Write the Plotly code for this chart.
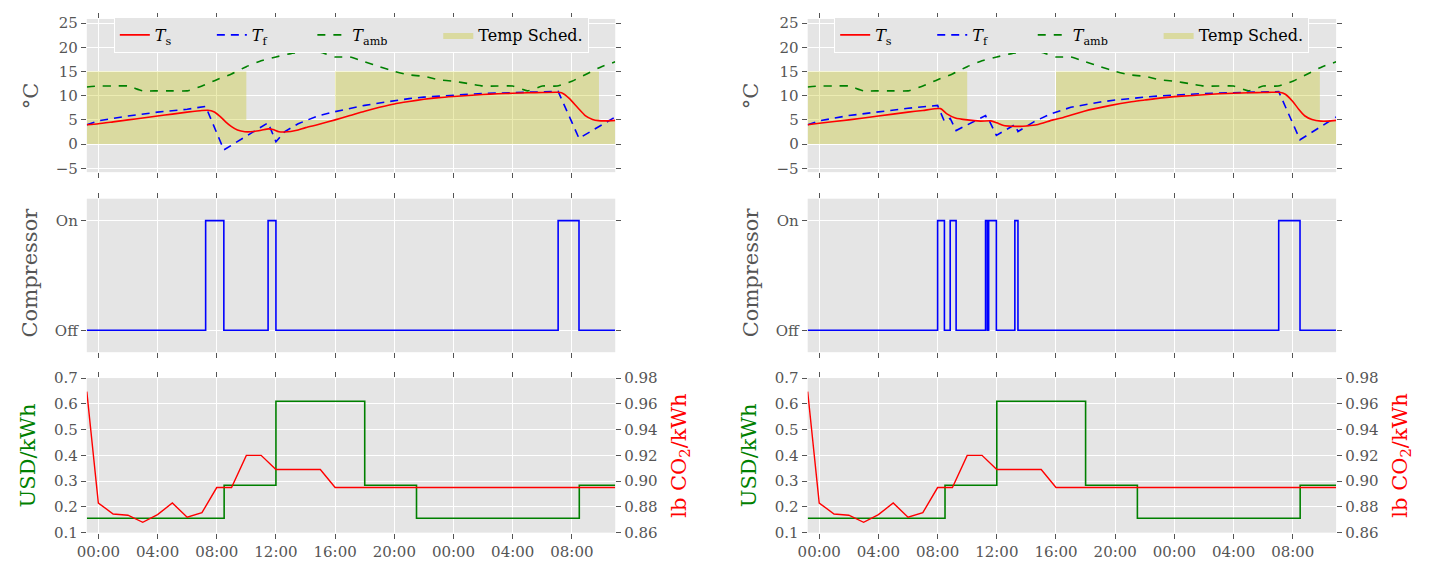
import datetime as dt
import plotly.graph_objects as go

# ---------------- data ----------------
BASE = dt.datetime(2016, 7, 1, 0, 0)
X_START, X_END = -0.78, 34.93

# temperature schedule (upper bound, lower bound is 0)
sched_hours = [-0.78, 10.0, 16.0, 33.83, 34.93]
sched_upper = [15, 5, 15, 5, 5]

# ambient temperature (same for both runs)
amb_hours = [-0.78, 0, 1, 2, 3, 4, 5, 6, 7, 8, 9, 10, 11, 12, 13, 14, 15, 16, 17, 18,
             19, 20, 21, 22, 23, 24, 25, 26, 27, 28, 29, 30, 31, 32, 33, 34, 34.93]
amb_temp = [11.8, 12, 12, 12, 11, 11, 11, 11, 12, 13.3, 14.5, 16, 17.2, 18, 18.7, 19, 19,
            18, 18, 17, 16, 15, 14.3, 14, 13.3, 13, 12.5, 12, 12, 12, 11, 12, 12, 13,
            14.5, 16, 17]

# left run
ts_left_hours = [-0.78, 0, 1, 2, 3, 4, 5, 6, 7, 7.4, 7.8, 8.2, 8.6, 9.0, 9.4, 9.9, 10.5,
                 11.0, 11.5, 11.8, 12.2, 12.6, 13.0, 13.5, 14.0, 14.8, 16, 17, 18, 19, 20,
                 21, 22, 23, 24, 25, 26, 27, 28, 29, 30, 31.0, 31.3, 31.8, 32.4, 32.9, 33.4,
                 33.8, 34.3, 34.93]
ts_left = [4.0, 4.2, 4.6, 5.0, 5.4, 5.8, 6.2, 6.6, 6.95, 7.0, 6.7, 5.8, 4.6, 3.6, 2.9, 2.55,
           2.6, 2.85, 3.15, 3.0, 2.55, 2.5, 2.6, 2.9, 3.4, 4.0, 5.0, 5.9, 6.8, 7.6, 8.3,
           8.8, 9.25, 9.6, 9.85, 10.05, 10.25, 10.4, 10.5, 10.6, 10.65, 10.7, 10.6, 9.5,
           7.5, 5.9, 5.1, 4.85, 4.8, 4.9]
tf_left_hours = [-0.78, 0, 2, 4, 6, 7.25, 8.48, 11.47, 12.0, 12.6, 13.5, 14.8, 16, 17, 18,
                 19, 20, 21, 22, 23, 24, 25, 26, 27, 28, 29, 30, 31.07, 32.48, 34.93]
tf_left = [4.0, 4.8, 5.8, 6.6, 7.2, 7.8, -1.2, 4.4, 0.5, 2.6, 4.2, 5.8, 6.7, 7.4, 8.0,
           8.5, 9.0, 9.4, 9.7, 9.95, 10.15, 10.3, 10.45, 10.55, 10.65, 10.75, 10.85,
           10.9, 1.2, 5.6]
comp_left_hours = [-0.78, 7.25, 8.48, 11.47, 12.0, 31.07, 32.48, 34.93]
comp_left = [0, 1, 0, 1, 0, 1, 0, 0]

# right run
ts_right_hours = [-0.78, 0, 2, 4, 6, 7, 8.2, 8.6, 9.2, 10.0, 10.9, 11.6, 12.0, 12.47, 13.0,
                  13.6, 14.0, 14.7, 15.8, 16.5, 17.9, 19.7, 21, 22, 23, 24, 25, 26, 27,
                  28, 29, 30, 31.1, 31.5, 32.0, 32.4, 32.8, 33.3, 33.9, 34.4, 34.93]
ts_right = [4.0, 4.3, 5.0, 5.8, 6.6, 6.95, 7.33, 6.3, 5.4, 5.0, 4.75, 4.8, 4.4, 3.86, 3.7,
            3.66, 3.75, 4.0, 5.0, 5.5, 6.8, 8.0, 8.7, 9.1, 9.5, 9.8, 10.0, 10.2, 10.4,
            10.5, 10.6, 10.65, 10.7, 10.3, 8.8, 7.2, 5.86, 5.1, 4.75, 4.75, 4.9]
tf_right_hours = [-0.78, 0, 2, 4, 6, 8.0, 8.46, 8.85, 9.25, 11.24, 11.36, 11.45, 11.97,
                  13.22, 13.43, 14.5, 15.6, 17, 18, 19, 20, 21, 22, 23, 24, 25, 26, 27,
                  28, 29, 30, 31.05, 32.49, 34.93]
tf_right = [4.0, 4.8, 5.9, 6.7, 7.4, 8.0, 4.7, 5.3, 2.8, 5.9, 5.0, 5.1, 1.8, 4.0, 2.6,
            4.6, 6.2, 7.6, 8.2, 8.7, 9.1, 9.45, 9.7, 9.95, 10.15, 10.3, 10.45, 10.55,
            10.65, 10.75, 10.8, 10.85, 0.9, 5.6]
comp_right_hours = [-0.78, 8.0, 8.46, 8.85, 9.25, 11.24, 11.36, 11.45, 11.97, 13.22, 13.43,
                    31.05, 32.49, 34.93]
comp_right = [0, 1, 0, 1, 0, 1, 0, 1, 0, 1, 0, 1, 0, 0]

# electricity price (USD/kWh) and CO2 intensity (lb/kWh)
price_hours = [-0.78, 8.5, 12.0, 18.0, 21.5, 32.5, 34.93]
price = [0.156, 0.284, 0.61, 0.284, 0.156, 0.284, 0.284]
co2_hours = [-0.78, 0, 1, 2, 3, 4, 5, 6, 7, 8, 9, 10, 11, 12, 13, 14, 15, 16, 34.93]
co2 = [0.9695, 0.883, 0.8745, 0.8735, 0.868, 0.874, 0.883, 0.872, 0.8755, 0.895, 0.895,
       0.920, 0.920, 0.909, 0.909, 0.909, 0.909, 0.895, 0.895]

temp_ticks = [-5, 0, 5, 10, 15, 20, 25]
comp_ticks = [0, 1]
comp_labels = ["Off", "On"]
NB = "\u00a0"
legend_names = ["<i>T</i><sub>s</sub>" + NB * 7, "<i>T</i><sub>f</sub>" + NB * 8,
                "<i>T</i><sub>amb</sub>" + NB * 9, "Temp Sched."]


def T(hours):
    return [BASE + dt.timedelta(hours=h) for h in hours]


# ---------------- style / layout ----------------
# The page body keeps the browser's default 8px margin, so the figure is
# 16px smaller than the 1432x578 window and all positions are shifted by 8px.
PAGE_MARGIN = 8
W, H = 1432 - 2 * PAGE_MARGIN, 578 - 2 * PAGE_MARGIN
BG = "#E5E5E5"
GRAY = "#555555"
FONT = "DejaVu Serif"
RED, BLUE, GREEN = "#FF0000", "#0000FF", "#008000"
SCHED_FILL = "rgba(191,191,0,0.30)"

# pixel positions measured on the 1432x578 window
col_px = [(77.3, 609.5), (803.3, 1335.5)]
row_px = [(10.0, 168.3), (195.7, 354.3), (381.0, 540.7)]


def fx(px):
    return (px - PAGE_MARGIN) / W


def fy(py):
    return 1 - (py - PAGE_MARGIN) / H


def xdom(c):
    return [fx(col_px[c][0]), fx(col_px[c][1])]


def ydom(r):
    return [fy(row_px[r][1]), fy(row_px[r][0])]


fig = go.Figure()

tick_font = dict(family=FONT, size=15, color=GRAY)

layout = dict(
    width=W, height=H, margin=dict(l=0, r=0, t=0, b=0, pad=0),
    paper_bgcolor="white", plot_bgcolor=BG, showlegend=True,
    font=dict(family=FONT, color=GRAY),
)

runs = [
    (ts_left_hours, ts_left, tf_left_hours, tf_left, comp_left_hours, comp_left),
    (ts_right_hours, ts_right, tf_right_hours, tf_right, comp_right_hours, comp_right),
]

for c, (tsh, tsv, tfh, tfv, cph, cpv) in enumerate(runs):
    n0 = c * 3
    xa = [f"x{n0 + r + 1}" if n0 + r + 1 > 1 else "x" for r in range(3)]
    ya = [f"y{n0 + r + 1}" if n0 + r + 1 > 1 else "y" for r in range(3)]
    leg = "legend" if c == 0 else "legend2"

    # top: temperatures
    fig.add_trace(go.Scatter(x=T(sched_hours), y=sched_upper, mode="lines",
                             name=legend_names[3], fill="tozeroy", fillcolor=SCHED_FILL,
                             line=dict(width=0, shape="hv", color=SCHED_FILL),
                             xaxis=xa[0], yaxis=ya[0], legend=leg, legendrank=4))
    fig.add_trace(go.Scatter(x=T(amb_hours), y=amb_temp, mode="lines", name=legend_names[2],
                             line=dict(color=GREEN, width=1.6, dash="8px,8px",
                                       shape="spline", smoothing=0.5),
                             xaxis=xa[0], yaxis=ya[0], legend=leg, legendrank=3))
    fig.add_trace(go.Scatter(x=T(tfh), y=tfv, mode="lines", name=legend_names[1],
                             line=dict(color=BLUE, width=1.6, dash="8px,6px"),
                             xaxis=xa[0], yaxis=ya[0], legend=leg, legendrank=2))
    fig.add_trace(go.Scatter(x=T(tsh), y=tsv, mode="lines", name=legend_names[0],
                             line=dict(color=RED, width=1.6, shape="spline", smoothing=0.6),
                             xaxis=xa[0], yaxis=ya[0], legend=leg, legendrank=1))
    # middle: compressor
    fig.add_trace(go.Scatter(x=T(cph), y=cpv, mode="lines", showlegend=False,
                             line=dict(color=BLUE, width=1.6, shape="hv"),
                             xaxis=xa[1], yaxis=ya[1]))
    # bottom: price and CO2
    fig.add_trace(go.Scatter(x=T(price_hours), y=price, mode="lines", showlegend=False,
                             line=dict(color=GREEN, width=1.6, shape="hv"),
                             xaxis=xa[2], yaxis=ya[2]))
    fig.add_trace(go.Scatter(x=T(co2_hours), y=co2, mode="lines", showlegend=False,
                             line=dict(color=RED, width=1.4),
                             xaxis=xa[2], yaxis=f"y{7 + c}"))

    for r in range(3):
        k = n0 + r + 1
        xkey = "xaxis" if k == 1 else f"xaxis{k}"
        ykey = "yaxis" if k == 1 else f"yaxis{k}"
        layout[xkey] = dict(
            domain=xdom(c), anchor=ya[r], type="date",
            range=[BASE + dt.timedelta(hours=X_START), BASE + dt.timedelta(hours=X_END)],
            tick0=BASE, dtick=4 * 3600 * 1000, tickformat="%H:%M",
            showgrid=True, gridcolor="white", gridwidth=1, zeroline=False,
            ticks="outside", ticklen=5, tickwidth=1, tickcolor=GRAY, mirror="ticks",
            showline=False, showticklabels=(r == 2), tickfont=tick_font,
        )
        ycommon = dict(domain=ydom(r), anchor=xa[r], showgrid=True, gridcolor="white",
                       gridwidth=1, zeroline=False, ticks="outside", ticklen=5,
                       tickwidth=1, tickcolor=GRAY, showline=False, tickfont=tick_font)
        if r == 0:
            ycommon.update(range=[-5.8, 25.86], tickvals=temp_ticks, mirror="ticks")
        elif r == 1:
            ycommon.update(range=[-0.2, 1.2], tickvals=comp_ticks, ticktext=comp_labels,
                           mirror="ticks")
        else:
            ycommon.update(range=[0.1, 0.7], dtick=0.1, tick0=0.1, tickformat=".1f")
        layout[ykey] = ycommon

    # twin axis for CO2
    layout[f"yaxis{7 + c}"] = dict(
        overlaying=ya[2], anchor=xa[2], side="right", range=[0.86, 0.98], dtick=0.02,
        tick0=0.86, tickformat=".2f", showgrid=False, zeroline=False, ticks="outside",
        ticklen=5, tickwidth=1, tickcolor=GRAY, tickfont=tick_font,
    )

    layout[leg] = dict(
        x=fx(104.5 if c == 0 else 830.0), y=1, xanchor="left", yanchor="top",
        orientation="h", bgcolor=BG, bordercolor="white", borderwidth=1,
        font=dict(family=FONT, size=16, color="black"),
    )

fig.update_layout(**layout)

# axis titles as annotations (window pixel positions)
title_font = dict(family=FONT, size=21, color=GRAY)
ann = []
for c in range(2):
    off = 0 if c == 0 else 726
    ann.append(dict(text="°C", x=fx(21 + off), y=fy(89), textangle=-90, font=title_font))
    ann.append(dict(text="Compressor", x=fx(20 + off), y=fy(272), textangle=-90,
                    font=title_font))
    ann.append(dict(text="USD/kWh", x=fx(19 + off), y=fy(461), textangle=-90,
                    font=dict(family=FONT, size=21, color=GREEN)))
    ann.append(dict(text="lb CO<sub>2</sub>/kWh", x=fx(675 + off), y=fy(461),
                    textangle=-90, font=dict(family=FONT, size=21, color=RED)))
for a in ann:
    a.update(xref="paper", yref="paper", showarrow=False, xanchor="center",
             yanchor="middle")
fig.update_layout(annotations=ann)

fig.write_html("out.html", config={"displayModeBar": False})
